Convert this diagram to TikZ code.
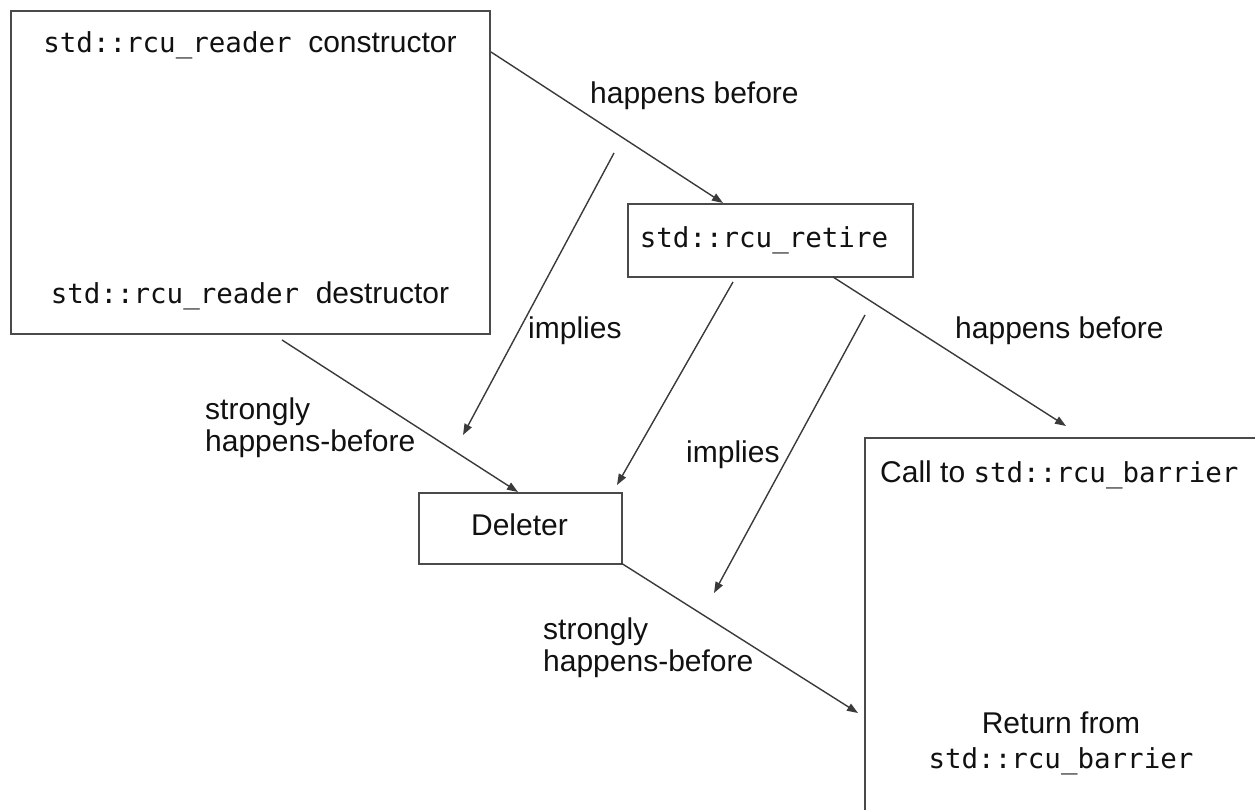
\documentclass[tikz,border=0pt]{standalone}
\usepackage{fontspec}
\setmainfont{Liberation Sans}
\setmonofont{DejaVu Sans Mono}
\usetikzlibrary{arrows.meta}
\definecolor{boxc}{HTML}{4A4A4A}
\definecolor{linec}{HTML}{3A3A3A}
\definecolor{txtc}{HTML}{111111}
\newcommand\mycode[1]{{\fontsize{27.5}{32}\selectfont\ttfamily #1}}
\begin{document}
\begin{tikzpicture}[x=1pt,y=-1pt,
  box/.style={draw=boxc, line width=1.6pt, rectangle, inner sep=0pt, anchor=north west},
  txt/.style={font=\fontsize{30}{36}\selectfont, text=txtc, anchor=base, inner sep=0pt},
  lbl/.style={font=\fontsize{30}{36}\selectfont, text=txtc, anchor=base west, inner sep=0pt},
  conn/.style={draw=linec, line width=1.4pt, -{Triangle[length=11pt,width=8pt]}}]
\useasboundingbox (0,0) rectangle (1255,810);
\clip (0,0) rectangle (1255,810);
% boxes
\node[box, minimum width=479pt, minimum height=323pt] (reader) at (10,10) {};
\node[box, minimum width=285pt, minimum height=73pt] (retire) at (627,203) {};
\node[box, minimum width=203pt, minimum height=71pt] (deleter) at (418,492) {};
\node[box, minimum width=500pt, minimum height=500pt] (barrier) at (864,437) {};
% box texts
\node[txt] (ctor) at (250,53) {\mycode{std::rcu\_reader\ }constructor};
\node[txt] (dtor) at (250,303) {\mycode{std::rcu\_reader\ }destructor};
\node[txt] (rtxt) at (764,248) {\mycode{std::rcu\_retire}};
\node[txt] (dtxt) at (519.5,535) {Deleter};
\node[txt, anchor=base west] (calltxt) at (880,482) {Call to \mycode{std::rcu\_barrier}};
\node[txt] (rettxt) at (1061,733) {Return from};
\node[txt] (retcode) at (1061,768) {\mycode{std::rcu\_barrier}};
% connector end points
\coordinate (a1) at (491,52);
\coordinate (a2) at (723,203);
\coordinate (b1) at (614,153);
\coordinate (b2) at (463,435);
\coordinate (c1) at (282,340);
\coordinate (c2) at (518,492);
\coordinate (d1) at (733,282);
\coordinate (d2) at (617,485);
\coordinate (e1) at (865,315);
\coordinate (e2) at (714,593);
\coordinate (f1) at (833,277);
\coordinate (f2) at (1066,426);
\coordinate (g1) at (621,563);
\coordinate (g2) at (858,713);
% connectors
\draw[conn] (a1) -- (a2);
\draw[conn] (b1) -- (b2);
\draw[conn] (c1) -- (c2);
\draw[conn] (d1) -- (d2);
\draw[conn] (e1) -- (e2);
\draw[conn] (f1) -- (f2);
\draw[conn] (g1) -- (g2);
% labels
\node[lbl] (l1) at (590,104) {happens before};
\node[lbl] (l2) at (528,338) {implies};
\node[lbl] (l3) at (205,419) {strongly};
\node[lbl] (l3b) at (205,451) {happens-before};
\node[lbl] (l4) at (955,338) {happens before};
\node[lbl] (l5) at (686,462) {implies};
\node[lbl] (l6) at (543,639) {strongly};
\node[lbl] (l6b) at (543,671) {happens-before};
\end{tikzpicture}
\end{document}
